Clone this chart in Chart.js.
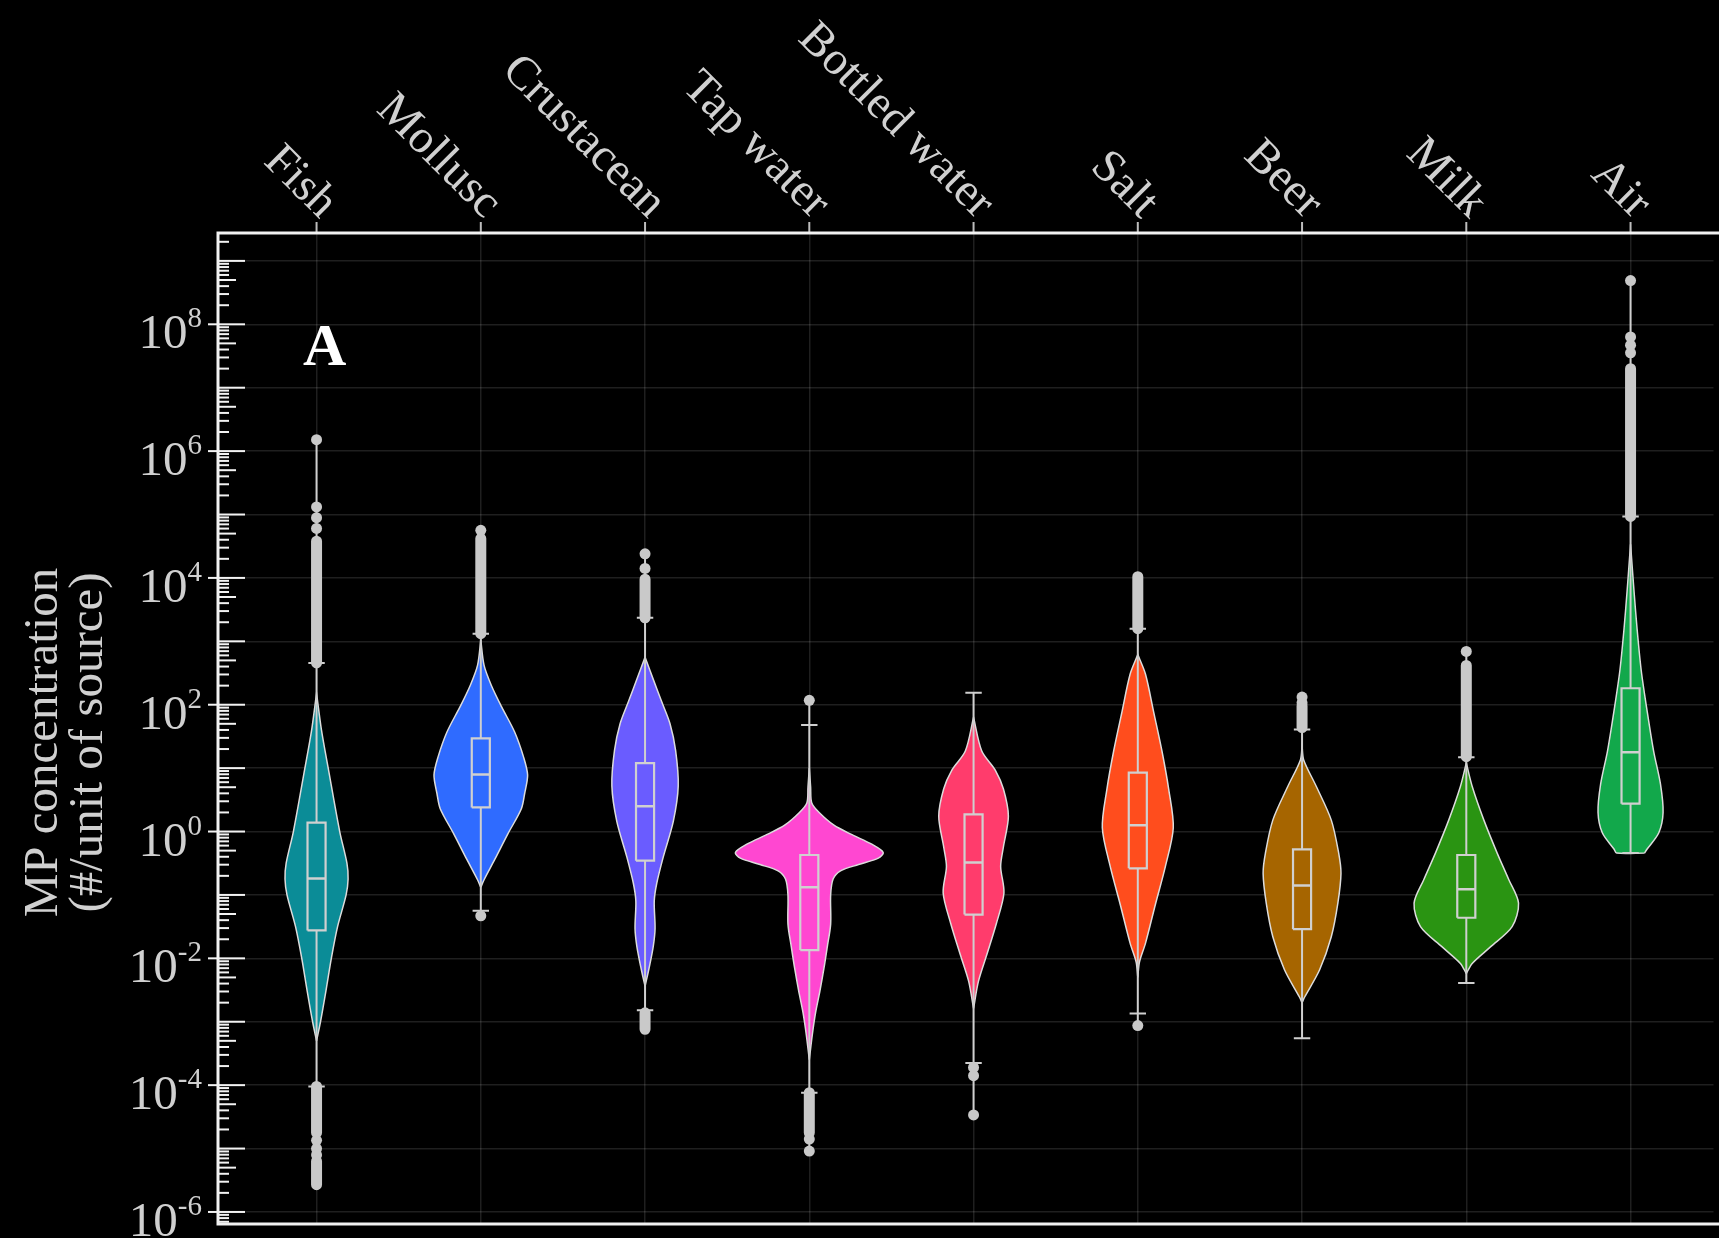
<!DOCTYPE html>
<html>
<head>
<meta charset="utf-8">
<title>MP concentration by source</title>
<script src="https://cdn.jsdelivr.net/npm/chart.js@4.4.1/dist/chart.umd.min.js"></script>
<style>
    html, body { margin: 0; padding: 0; background: #000; overflow: hidden; }
    canvas { display: block; }
</style>
</head>
<body>
<canvas id="violinChart" width="1719" height="1238"></canvas>
<script>
// Categories (top axis)
const CATEGORIES = ['Fish', 'Mollusc', 'Crustacean', 'Tap water', 'Bottled water', 'Salt', 'Beer', 'Milk', 'Air'];

// Box plot stats, as log10 of MP concentration (#/unit of source)
const Q3_EXP      = [0.14, 1.47, 1.08, -0.37, 0.27, 0.93, -0.28, -0.37, 2.26];
const MEDIAN_EXP  = [-0.74, 0.90, 0.40, -0.88, -0.49, 0.10, -0.85, -0.91, 1.25];
const Q1_EXP      = [-1.56, 0.38, -0.46, -1.87, -1.31, -0.58, -1.54, -1.36, 0.44];
const WHISK_HI_EXP = [2.66, 3.12, 3.37, 1.68, 2.19, 3.20, 1.61, 1.17, 4.97];
const WHISK_LO_EXP = [-4.02, -1.25, -2.82, -4.12, -3.65, -2.87, -3.26, -2.39, -0.34];

// Outliers: dense runs [low, high] and single points (log10)
const OUTLIER_RUNS = [
    [[2.66, 4.58], [-4.75, -4.02], [-5.57, -5.2]],
    [[3.12, 4.62]],
    [[3.37, 3.98], [-3.12, -2.86]],
    [[-4.75, -4.12]],
    [],
    [[3.2, 4.02]],
    [[1.64, 1.98]],
    [[1.18, 2.62]],
    [[4.97, 7.3]]
];
const OUTLIER_POINTS = [
    [6.18, 5.12, 4.95, 4.78, -4.87, -5.0, -5.1],
    [4.75, -1.33],
    [4.38, 4.15],
    [2.07, -4.85, -5.04],
    [-3.72, -3.85, -4.47],
    [-3.06],
    [2.12, 2.03],
    [2.84],
    [8.69, 7.8, 7.67, 7.55]
];

// Violin profiles: [log10 value, half width in category units], top to bottom
const violinFish = [[2.18, 0], [1.6, 0.03], [1.0, 0.071], [0.0, 0.141], [-0.5, 0.185], [-0.75, 0.192], [-1.0, 0.18], [-1.5, 0.128], [-2.0, 0.09], [-2.5, 0.058], [-3.0, 0.024], [-3.3, 0]];
const violinMollusc = [[3.02, 0], [2.62, 0.02], [2.3, 0.065], [1.97, 0.126], [1.57, 0.206], [1.17, 0.261], [0.89, 0.285], [0.6, 0.267], [0.36, 0.247], [-0.04, 0.164], [-0.44, 0.085], [-0.76, 0.02], [-0.88, 0]];
const violinCrustacean = [[2.75, 0], [2.4, 0.05], [2.05, 0.101], [1.7, 0.152], [1.28, 0.186], [0.72, 0.202], [0.16, 0.172], [-0.4, 0.111], [-0.82, 0.071], [-1.1, 0.056], [-1.53, 0.061], [-1.81, 0.05], [-2.16, 0.024], [-2.44, 0]];
const violinTapWater = [[1.0, 0], [0.7, 0.008], [0.45, 0.015], [0.3, 0.06], [0.1, 0.15], [-0.05, 0.26], [-0.2, 0.38], [-0.33, 0.45], [-0.42, 0.42], [-0.52, 0.3], [-0.62, 0.19], [-0.75, 0.145], [-1.0, 0.13], [-1.46, 0.13], [-1.81, 0.11], [-2.16, 0.089], [-2.51, 0.065], [-2.86, 0.038], [-3.21, 0.018], [-3.6, 0]];
const violinBottledWater = [[1.8, 0], [1.27, 0.05], [0.97, 0.132], [0.67, 0.182], [0.24, 0.212], [-0.24, 0.182], [-0.55, 0.165], [-0.97, 0.185], [-1.45, 0.139], [-1.94, 0.081], [-2.36, 0.03], [-2.79, 0]];
const violinSalt = [[2.79, 0], [2.48, 0.047], [1.88, 0.097], [1.27, 0.147], [0.67, 0.188], [0.06, 0.216], [-0.55, 0.168], [-1.15, 0.107], [-1.76, 0.047], [-2.06, 0.01], [-2.3, 0]];
const violinBeer = [[1.35, 0], [1.13, 0.01], [0.71, 0.087], [0.18, 0.178], [-0.34, 0.223], [-0.66, 0.237], [-1.13, 0.218], [-1.66, 0.178], [-2.18, 0.107], [-2.61, 0.016], [-2.7, 0]];
const violinMilk = [[1.08, 0], [0.71, 0.036], [0.18, 0.107], [-0.34, 0.188], [-0.76, 0.259], [-1.13, 0.318], [-1.5, 0.279], [-1.82, 0.147], [-2.08, 0.036], [-2.24, 0]];
const violinAir = [[4.53, 0], [3.83, 0.02], [3.19, 0.04], [2.54, 0.065], [1.9, 0.101], [1.26, 0.141], [0.75, 0.182], [0.3, 0.198], [-0.02, 0.172], [-0.28, 0.1], [-0.34, 0.085]];
const VIOLINS = [violinFish, violinMollusc, violinCrustacean, violinTapWater, violinBottledWater, violinSalt, violinBeer, violinMilk, violinAir];

// Y ticks: one grid line per decade, labels on even decades
const GRID_EXP = [-6, -5, -4, -3, -2, -1, 0, 1, 2, 3, 4, 5, 6, 7, 8, 9];
const LABEL_EXP = [-6, -4, -2, 0, 2, 4, 6, 8];

// Styles
const COLORS = ['#0b8c97', '#2f6bff', '#6a5cff', '#ff47d1', '#ff3c6c', '#ff4d1d', '#a66500', '#2a9412', '#12a84b'];
const INK = '#d0d0d0';
const FRAME = '#f2f2f2';
const FONT = '"Liberation Serif", "Times New Roman", serif';
const BOX_HALF = 0.055;
const CAP_HALF = 0.05;

const pow10 = e => Math.pow(10, e);
const gap = i => ({ x: i, y: null });

// Build datasets
function buildDatasets() {
    const sets = [];

    // Violins
    VIOLINS.forEach((prof, i) => {
        const right = prof.slice().reverse().map(([e, w]) => ({ x: i + w, y: pow10(e) }));
        const left = prof.map(([e, w]) => ({ x: i - w, y: pow10(e) }));
        const pts = right.concat(left);
        pts.push(pts[0]);
        sets.push({
            data: pts, fill: 'shape', backgroundColor: COLORS[i],
            borderColor: '#dcdcdc', borderWidth: 1.5, pointRadius: 0, tension: 0.3, order: 6
        });
    });

    // Whisker lines (full extent) and caps
    const whiskers = [], caps = [];
    CATEGORIES.forEach((c, i) => {
        const all = [WHISK_LO_EXP[i], WHISK_HI_EXP[i], ...OUTLIER_POINTS[i], ...OUTLIER_RUNS[i].flat()];
        whiskers.push({ x: i, y: pow10(Math.min(...all)) }, { x: i, y: pow10(Math.max(...all)) }, gap(i));
        [WHISK_LO_EXP[i], WHISK_HI_EXP[i]].forEach(e => {
            caps.push({ x: i - CAP_HALF, y: pow10(e) }, { x: i + CAP_HALF, y: pow10(e) }, gap(i));
        });
    });
    sets.push({ data: whiskers, borderColor: '#cfcfcf', borderWidth: 2, pointRadius: 0, tension: 0, order: 5 });
    sets.push({ data: caps, borderColor: '#cfcfcf', borderWidth: 2, pointRadius: 0, tension: 0, order: 5 });

    // Boxes, filled with the violin colour
    CATEGORIES.forEach((c, i) => {
        const lo = pow10(Q1_EXP[i]), hi = pow10(Q3_EXP[i]);
        sets.push({
            data: [
                { x: i - BOX_HALF, y: lo }, { x: i + BOX_HALF, y: lo },
                { x: i + BOX_HALF, y: hi }, { x: i - BOX_HALF, y: hi }, { x: i - BOX_HALF, y: lo }
            ],
            fill: 'shape', backgroundColor: COLORS[i], borderColor: '#d0d0d0',
            borderWidth: 2.2, pointRadius: 0, tension: 0, order: 4
        });
    });

    // Medians
    const medians = [];
    MEDIAN_EXP.forEach((e, i) => {
        medians.push({ x: i - BOX_HALF, y: pow10(e) }, { x: i + BOX_HALF, y: pow10(e) }, gap(i));
    });
    sets.push({ data: medians, borderColor: '#d0d0d0', borderWidth: 2.5, pointRadius: 0, tension: 0, order: 3 });

    // Outlier runs (overlapping points)
    const runs = [];
    OUTLIER_RUNS.forEach((list, i) => {
        list.forEach(([a, b]) => runs.push({ x: i, y: pow10(a) }, { x: i, y: pow10(b) }, gap(i)));
    });
    sets.push({ data: runs, borderColor: '#c9c9c9', borderWidth: 11, borderCapStyle: 'round', pointRadius: 0, tension: 0, order: 2 });

    // Single outliers
    const dots = [];
    OUTLIER_POINTS.forEach((list, i) => list.forEach(e => dots.push({ x: i, y: pow10(e) })));
    sets.push({ data: dots, showLine: false, pointRadius: 5.5, pointBackgroundColor: '#c9c9c9', pointBorderWidth: 0, order: 1 });

    return sets;
}

// Black page background
const backgroundPlugin = {
    id: 'background',
    beforeDraw(chart) {
        const ctx = chart.ctx;
        ctx.save();
        ctx.fillStyle = '#000';
        ctx.fillRect(0, 0, chart.width, chart.height);
        ctx.restore();
    }
};

// Frame, log ticks, labels and titles
const axisPlugin = {
    id: 'axisDecor',
    afterDraw(chart) {
        const { ctx, chartArea: area, scales: { x, y } } = chart;
        ctx.save();

        // Log ticks inside the left axis
        ctx.strokeStyle = FRAME;
        ctx.lineWidth = 2;
        for (let d = -7; d <= 9; d++) {
            for (let k = 1; k <= 9; k++) {
                const v = k * pow10(d);
                if (v < y.min || v > y.max) continue;
                const py = y.getPixelForValue(v);
                const len = k === 1 ? 27 : (k === 5 ? 18 : 11);
                ctx.beginPath();
                ctx.moveTo(area.left, py);
                ctx.lineTo(area.left + len, py);
                ctx.stroke();
            }
        }
        // Outward ticks at labelled decades
        LABEL_EXP.forEach(e => {
            const py = y.getPixelForValue(pow10(e));
            ctx.beginPath();
            ctx.moveTo(area.left - 10, py);
            ctx.lineTo(area.left, py);
            ctx.stroke();
        });

        // Category ticks on the top axis
        ctx.strokeStyle = '#bdbdbd';
        CATEGORIES.forEach((c, i) => {
            const px = x.getPixelForValue(i);
            ctx.beginPath();
            ctx.moveTo(px, area.top - 11);
            ctx.lineTo(px, area.top);
            ctx.stroke();
        });

        // Frame lines
        ctx.strokeStyle = FRAME;
        ctx.lineWidth = 3;
        ctx.beginPath();
        ctx.moveTo(chart.width, area.top);
        ctx.lineTo(area.left, area.top);
        ctx.lineTo(area.left, area.bottom);
        ctx.lineTo(chart.width, area.bottom);
        ctx.stroke();

        // Y tick labels: 10 with superscript exponent
        ctx.fillStyle = INK;
        ctx.textAlign = 'right';
        ctx.textBaseline = 'alphabetic';
        LABEL_EXP.forEach(e => {
            const py = y.getPixelForValue(pow10(e));
            const xr = area.left - 16;
            ctx.font = `29px ${FONT}`;
            const expText = String(e);
            const ew = ctx.measureText(expText).width;
            ctx.fillText(expText, xr, py + 3);
            ctx.font = `49px ${FONT}`;
            ctx.fillText('10', xr - ew, py + 24);
        });

        // Rotated category labels
        ctx.font = `47px ${FONT}`;
        ctx.textAlign = 'right';
        ctx.textBaseline = 'middle';
        CATEGORIES.forEach((c, i) => {
            const px = x.getPixelForValue(i);
            ctx.save();
            ctx.translate(px + 12, area.top - 22);
            ctx.rotate(Math.PI / 4);
            ctx.fillText(c, 0, 0);
            ctx.restore();
        });

        // Y axis title
        ctx.font = `49px ${FONT}`;
        ctx.save();
        ctx.translate(0, (area.top + area.bottom) / 2 + 14);
        ctx.rotate(-Math.PI / 2);
        ctx.textAlign = 'center';
        ctx.textBaseline = 'middle';
        ctx.fillText('MP concentration', 0, 44);
        ctx.fillText('(#/unit of source)', 0, 89);
        ctx.restore();

        // Panel tag
        ctx.fillStyle = '#ffffff';
        ctx.font = `bold 60px ${FONT}`;
        ctx.textAlign = 'center';
        ctx.textBaseline = 'middle';
        ctx.fillText('A', x.getPixelForValue(0.05), y.getPixelForValue(pow10(7.6)));

        ctx.restore();
    }
};

const gridColor = 'rgba(255,255,255,0.12)';

new Chart(document.getElementById('violinChart').getContext('2d'), {
    type: 'line',
    data: { datasets: buildDatasets() },
    options: {
        responsive: false,
        animation: false,
        events: [],
        layout: { padding: { left: 0, top: 0, right: 0, bottom: 14 } },
        plugins: { legend: { display: false }, tooltip: { enabled: false } },
        scales: {
            x: {
                type: 'linear',
                position: 'top',
                min: -0.6,
                max: 8.505,
                bounds: 'data',
                afterBuildTicks: s => { s.ticks = CATEGORIES.map((c, i) => ({ value: i })); },
                afterFit: s => { s.height = 233; },
                ticks: { display: false },
                grid: { color: gridColor, lineWidth: 1.5, drawTicks: false },
                border: { display: false }
            },
            y: {
                type: 'logarithmic',
                min: pow10(-6.19),
                max: pow10(9.44),
                bounds: 'data',
                afterBuildTicks: s => { s.ticks = GRID_EXP.map(e => ({ value: pow10(e) })); },
                afterFit: s => { s.width = 218; },
                ticks: { display: false },
                grid: { color: gridColor, lineWidth: 1.5, drawTicks: false },
                border: { display: false }
            }
        }
    },
    plugins: [backgroundPlugin, axisPlugin]
});
</script>
</body>
</html>
